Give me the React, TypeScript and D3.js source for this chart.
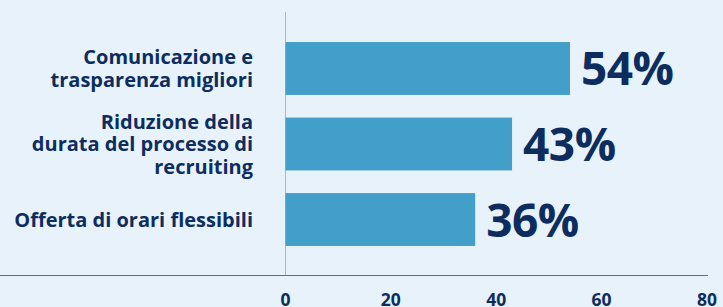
import React from 'react';
import * as d3 from 'd3';

const categories = [
  ['Comunicazione e', 'trasparenza migliori'],
  ['Riduzione della', 'durata del processo di', 'recruiting'],
  ['Offerta di orari flessibili'],
];
const values = [54, 43, 36];
const xTicks = [0, 20, 40, 60, 80];

const W = 723;
const H = 307;
const NAVY = '#0e2d5f';
const BAR = '#419fca';
const FONT = '"Open Sans", Lato, sans-serif';

export default function App() {
  const x = d3.scaleLinear().domain([0, 80]).range([285.5, 707]);
  const y = d3
    .scaleBand<number>()
    .domain(values.map((_, i) => i))
    .range([16, 272])
    .paddingInner(0.3)
    .paddingOuter(0.345);

  const lineH = 22.5;
  const capH = 14.5;

  return (
    <div style={{ position: 'fixed', left: 0, top: 0, width: W, height: H }}>
      <svg width={W} height={H} style={{ display: 'block', background: '#e8f2fb' }}>
        {/* vertical zero line */}
        <line x1={x(0)} x2={x(0)} y1={12} y2={276} stroke="#a9b5c8" strokeWidth={1} />

        {values.map((v, i) => {
          const top = y(i)!;
          const mid = top + y.bandwidth() / 2;
          const lines = categories[i];
          const first = mid - ((lines.length - 1) * lineH) / 2 + capH / 2;
          return (
            <g key={i}>
              <rect x={x(v) > x(0) ? x(0) : x(v)} y={top} width={x(v) - x(0)} height={y.bandwidth()} fill={BAR} />
              <text
                x={x(v) + 11}
                y={mid + 17}
                fill={NAVY}
                fontFamily={FONT}
                fontWeight={700}
                fontSize={46}
                letterSpacing={-0.5}
              >
                {v}%
              </text>
              <text
                textAnchor="end"
                fill={NAVY}
                fontFamily={FONT}
                fontWeight={700}
                fontSize={20}
              >
                {lines.map((l, j) => (
                  <tspan key={j} x={253} y={first + j * lineH}>
                    {l}
                  </tspan>
                ))}
              </text>
            </g>
          );
        })}

        {/* x axis */}
        <line x1={0} x2={708} y1={275.5} y2={275.5} stroke="#5b6f8e" strokeWidth={1.2} />
        {xTicks.map(t => (
          <text
            key={t}
            x={x(t)}
            y={305.5}
            textAnchor="middle"
            fill={NAVY}
            fontFamily={FONT}
            fontWeight={700}
            fontSize={17.5}
          >
            {t}
          </text>
        ))}
      </svg>
    </div>
  );
}
